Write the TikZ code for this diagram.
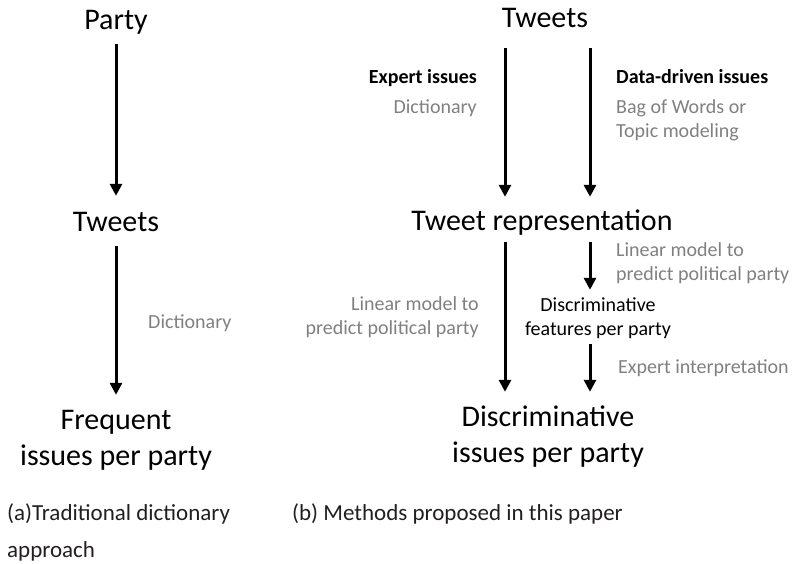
\documentclass[tikz,border=0pt]{standalone}
\usepackage{fontspec}
\setmainfont{Carlito}
\usetikzlibrary{arrows.meta}
\definecolor{lblgray}{RGB}{128,128,128}
\definecolor{captext}{RGB}{35,31,32}
\tikzset{
  big/.style={font=\fontsize{30}{36}\selectfont, inner sep=0pt, text height=20pt, text depth=6pt, align=center},
  bigtwo/.style={big, text height=56pt},
  small/.style={font=\fontsize{20}{23.5}\selectfont, inner sep=0pt, text height=14pt, text depth=5pt},
  lbl/.style={small, text=lblgray},
  boldlbl/.style={small, font=\fontsize{20}{23.5}\selectfont\bfseries},
  caption/.style={font=\fontsize{23}{37}\selectfont, inner sep=0pt, align=left, text=captext},
  arr/.style={line width=3pt, -{Triangle[width=12pt,length=12pt]}},
}
\begin{document}
\begin{tikzpicture}[x=1pt,y=-1pt]
\useasboundingbox (0,0) rectangle (792,563);
% columns
\coordinate (cL) at (116,0);
\coordinate (cA) at (505,0);
\coordinate (cB) at (590,0);
% (a)
\node[big, anchor=base] (party) at (116,29) {Party};
\node[big, anchor=base] (tweetsL) at (116,231) {Tweets};
\node[bigtwo, anchor=base] (frequent) at (116,465) {Frequent\\issues per party};
\node[lbl, anchor=base west] (dictL) at (148,328) {Dictionary};
\node[caption, anchor=base west] (capA) at (7,557) {(a)Traditional dictionary\\approach};
\draw[arr, shorten <=9pt, shorten >=15pt] (party.south) -- (tweetsL.north);
\draw[arr, shorten <=9pt, shorten >=14pt] (tweetsL.south) -- (frequent.north);
% (b)
\node[big, anchor=base] (tweetsR) at (545,27) {Tweets};
\node[big, anchor=base] (rep) at (542,230) {Tweet representation};
\node[bigtwo, anchor=base] (discBig) at (548,462) {Discriminative\\issues per party};
\node[small, anchor=base, align=center, text height=37.5pt] (discSmall) at (598,335) {Discriminative\\features per party};
\node[boldlbl, anchor=base east] (expert) at (477,83) {Expert issues};
\node[lbl, anchor=base east] (dictR) at (477,113) {Dictionary};
\node[boldlbl, anchor=base west] (datadriven) at (616,83) {Data-driven issues};
\node[lbl, anchor=base west, align=left] (bow) at (616,137) {Bag of Words or\\Topic modeling};
\node[lbl, anchor=base west, align=left] (linR) at (616,280) {Linear model to\\predict political party};
\node[lbl, anchor=base east, align=right] (linL) at (479,334) {Linear model to\\predict political party};
\node[lbl, anchor=base west] (interp) at (618,373) {Expert interpretation};
\node[caption, anchor=base west] (capB) at (292,520) {(b) Methods proposed in this paper};
\draw[arr, shorten <=15pt, shorten >=13pt] (tweetsR.south -| cA) -- (rep.north -| cA);
\draw[arr, shorten <=15pt, shorten >=13pt] (tweetsR.south -| cB) -- (rep.north -| cB);
\draw[arr, shorten <=6pt, shorten >=14pt] (rep.south -| cA) -- (discBig.north -| cA);
\draw[arr, shorten <=6pt, shorten >=7.5pt] (rep.south -| cB) -- (discSmall.north -| cB);
\draw[arr, shorten <=4pt, shorten >=14pt] (discSmall.south -| cB) -- (discBig.north -| cB);
\end{tikzpicture}
\end{document}
